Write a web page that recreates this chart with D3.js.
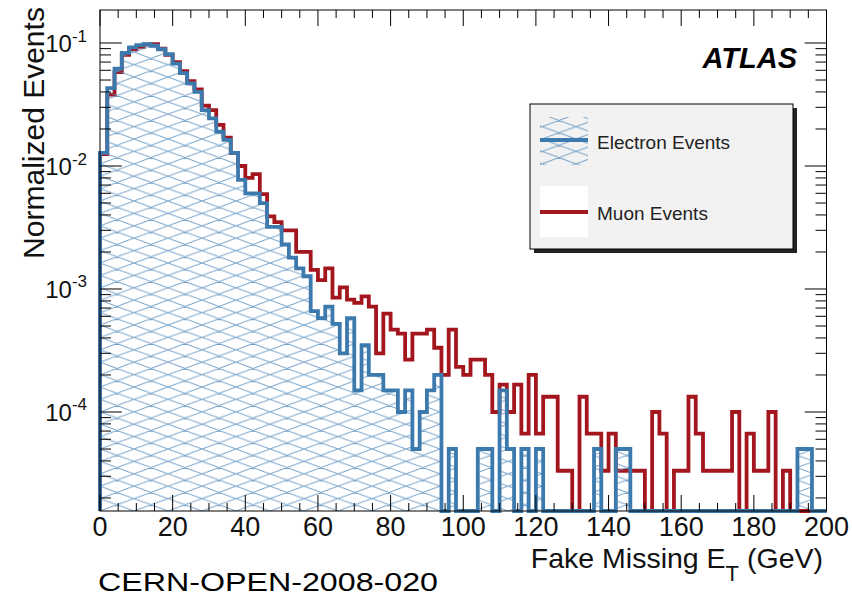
<!DOCTYPE html>
<html>
<head>
<meta charset="utf-8">
<script src="https://cdn.jsdelivr.net/npm/d3@7"></script>
<style>
  body { margin: 0; background: #fff; }
  svg { display: block; }
  text { font-family: "Liberation Sans", Arial, Helvetica, sans-serif; }
</style>
</head>
<body>
<svg id="chart" width="852" height="599"></svg>
<script>
// ---- data -------------------------------------------------------------
// Histogram binning: 100 bins of 2 GeV from 0 to 200 GeV (lower edges)
const binLowEdges = d3.range(0, 200, 2);
const binWidth = 2;

// Normalized entries per bin, electron channel
const electronEvents = [
  0.0128, 0.043, 0.062, 0.083, 0.092, 0.096, 0.098, 0.095, 0.089, 0.081,
  0.068, 0.057, 0.047, 0.040, 0.0285, 0.0244, 0.019, 0.0163, 0.0128, 0.0077,
  0.0060, 0.0060, 0.0050, 0.0032, 0.0032, 0.0023, 0.0018, 0.00147, 0.00127, 0.00066,
  0.00058, 0.00072, 0.00052, 0.00030, 0.00058, 0.00015, 0.00035, 0.00020, 0.00020, 0.00015,
  0.00015, 0.00010, 0.00015, 0.00005, 0.00010, 0.00015, 0.00020, 0, 0.00005, 0,
  0, 0, 0.00005, 0.00005, 0, 0.00015, 0.00005, 0, 0.00005, 0,
  0.00005, 0, 0, 0, 0, 0, 0, 0, 0.00005, 0,
  0, 0.00005, 0.00005, 0, 0, 0, 0, 0, 0, 0,
  0, 0, 0, 0, 0, 0, 0, 0, 0, 0,
  0, 0, 0, 0, 0, 0, 0.00005, 0.00005, 0, 0
];

// Normalized entries per bin, muon channel
const muonEvents = [
  0.0125, 0.038, 0.058, 0.080, 0.089, 0.093, 0.097, 0.098, 0.090, 0.080,
  0.070, 0.059, 0.049, 0.042, 0.031, 0.0285, 0.0216, 0.017, 0.0128, 0.0100,
  0.0080, 0.0086, 0.0059, 0.0039, 0.0035, 0.0030, 0.0030, 0.0020, 0.0020, 0.00143,
  0.00118, 0.00147, 0.00085, 0.00103, 0.00082, 0.00077, 0.00087, 0.00072, 0.00030, 0.00063,
  0.000467, 0.000433, 0.000267, 0.000433, 0.000433, 0.000467, 0.000333, 0.000200, 0.000467, 0.000233,
  0.000200, 0.000267, 0.000267, 0.000200, 0.000100, 0.000167, 0.000100, 0.000167, 0.0000667, 0.000200,
  0.0000667, 0.000133, 0.000133, 0.0000333, 0.0000333, 0, 0.000133, 0.0000667, 0.0000667, 0.0000333,
  0.0000667, 0.0000333, 0.0000333, 0.0000333, 0.0000333, 0, 0.000100, 0.0000667, 0, 0.0000333,
  0.0000333, 0.000133, 0.0000667, 0.0000333, 0.0000333, 0.0000333, 0.0000333, 0.000100, 0, 0.0000667,
  0.0000333, 0.0000333, 0.000100, 0, 0.0000333, 0, 0, 0, 0, 0
];

const seriesNames = ["Electron Events", "Muon Events"];

// Axis ticks
const xMajorTicks = d3.range(0, 201, 20);
const xMinorTicks = d3.range(0, 201, 5);
const yDecadeExponents = [-4, -3, -2, -1];
const yMinorMultipliers = [2, 3, 4, 5, 6, 7, 8, 9];
const yDomain = [1.567e-5, 0.1855];

// ---- layout -----------------------------------------------------------
const frame = { left: 100, right: 826.5, top: 10, bottom: 511 };
const colors = { electron: "#3c7aae", muon: "#a3161e", hatch: "#5289ba" };

const svg = d3.select("#chart");

const x = d3.scaleLinear().domain([0, 200]).range([frame.left, frame.right]);
const y = d3.scaleLog().domain(yDomain).range([frame.bottom, frame.top]).clamp(true);
const yv = v => (v > 0 ? y(v) : frame.bottom);

// ---- hatch pattern ----------------------------------------------------
const defs = svg.append("defs");
function addHatch(id) {
  const pw = 34, ph = 12.4;
  const p = defs.append("pattern")
    .attr("id", id)
    .attr("patternUnits", "userSpaceOnUse")
    .attr("width", pw).attr("height", ph)
    .attr("x", frame.left).attr("y", frame.bottom);
  const d = [];
  for (const n of [-1, 0, 1]) {
    d.push(`M${-pw},${-ph + n * ph}L${2 * pw},${2 * ph + n * ph}`);
    d.push(`M${-pw},${2 * ph + n * ph}L${2 * pw},${-ph + n * ph}`);
  }
  p.append("path")
    .attr("d", d.join(""))
    .attr("stroke", colors.hatch)
    .attr("stroke-width", 1)
    .attr("stroke-opacity", 0.8)
    .attr("fill", "none");
}
addHatch("hatch");

// ---- histogram step outlines -----------------------------------------
function stepPoints(values) {
  const pts = [[x(0), frame.bottom]];
  values.forEach((v, i) => {
    const lo = binLowEdges[i];
    pts.push([x(lo), yv(v)]);
    pts.push([x(lo + binWidth), yv(v)]);
  });
  pts.push([x(200), frame.bottom]);
  return pts;
}
const line = d3.line();

const muonPts = stepPoints(muonEvents);
const elecPts = stepPoints(electronEvents);

// muon: white fill with dark red outline
svg.append("path").attr("d", line(muonPts) + "Z").attr("fill", "#fff");
svg.append("path").attr("d", line(muonPts))
  .attr("fill", "none").attr("stroke", colors.muon)
  .attr("stroke-width", 3.8).attr("stroke-linejoin", "miter");

// electron: hatched fill with blue outline
svg.append("path").attr("d", line(elecPts) + "Z").attr("fill", "url(#hatch)");
svg.append("path").attr("d", line(elecPts))
  .attr("fill", "none").attr("stroke", colors.electron)
  .attr("stroke-width", 3.8).attr("stroke-linejoin", "miter");

// ---- frame and ticks --------------------------------------------------
const axes = svg.append("g").attr("stroke", "#000").attr("stroke-width", 1);
axes.append("rect")
  .attr("x", frame.left).attr("y", frame.top)
  .attr("width", frame.right - frame.left).attr("height", frame.bottom - frame.top)
  .attr("fill", "none");

const xMajorLen = 16, xMinorLen = 8, yMajorLen = 21.8, yMinorLen = 11;
xMinorTicks.forEach(t => {
  const len = xMajorTicks.includes(t) ? xMajorLen : xMinorLen;
  const px = x(t);
  axes.append("line").attr("x1", px).attr("x2", px).attr("y1", frame.bottom).attr("y2", frame.bottom - len);
  axes.append("line").attr("x1", px).attr("x2", px).attr("y1", frame.top).attr("y2", frame.top + len);
});

const yMinorValues = [];
[-5, -4, -3, -2, -1].forEach(e => yMinorMultipliers.forEach(m => {
  const v = m * Math.pow(10, e);
  if (v >= yDomain[0] && v <= yDomain[1]) yMinorValues.push(v);
}));
yMinorValues.forEach(v => {
  const py = y(v);
  axes.append("line").attr("x1", frame.left).attr("x2", frame.left + yMinorLen).attr("y1", py).attr("y2", py);
  axes.append("line").attr("x1", frame.right).attr("x2", frame.right - yMinorLen).attr("y1", py).attr("y2", py);
});
yDecadeExponents.forEach(e => {
  const py = y(Math.pow(10, e));
  axes.append("line").attr("x1", frame.left).attr("x2", frame.left + yMajorLen).attr("y1", py).attr("y2", py);
  axes.append("line").attr("x1", frame.right).attr("x2", frame.right - yMajorLen).attr("y1", py).attr("y2", py);
});

// ---- tick labels ------------------------------------------------------
svg.append("g").selectAll("text").data(xMajorTicks).join("text")
  .attr("x", d => x(d)).attr("y", 536)
  .attr("text-anchor", "middle").attr("font-size", 27).attr("fill", "#111")
  .text(d => d);

const yLabels = svg.append("g").selectAll("text").data(yDecadeExponents).join("text")
  .attr("x", 87).attr("y", d => y(Math.pow(10, d)) + 9)
  .attr("text-anchor", "end").attr("fill", "#111");
yLabels.append("tspan").attr("font-size", 24).text("10");
yLabels.append("tspan").attr("font-size", 17).attr("dy", -10.5).text(d => String(d));

// ---- axis titles ------------------------------------------------------
svg.append("text")
  .attr("transform", "translate(44,133) rotate(-90)")
  .attr("text-anchor", "middle").attr("font-size", 30).attr("fill", "#111")
  .text("Normalized Events");

const xt = svg.append("text")
  .attr("x", 823).attr("y", 567.5)
  .attr("text-anchor", "end").attr("font-size", 28.5).attr("fill", "#111");
xt.append("tspan").text("Fake Missing E");
xt.append("tspan").attr("font-size", 22).attr("dy", 13).text("T");
xt.append("tspan").attr("dy", -13).text(" (GeV)");

// ---- experiment label -------------------------------------------------
svg.append("text")
  .attr("x", 797).attr("y", 68)
  .attr("text-anchor", "end").attr("font-size", 29)
  .attr("font-weight", "bold").attr("font-style", "italic").attr("fill", "#000")
  .text("ATLAS");

// ---- legend -----------------------------------------------------------
const lg = { x: 530, y: 104, w: 263, h: 145 };
svg.append("rect").attr("x", lg.x + 4).attr("y", lg.y + 4).attr("width", lg.w).attr("height", lg.h).attr("fill", "#222");
svg.append("rect").attr("x", lg.x).attr("y", lg.y).attr("width", lg.w).attr("height", lg.h)
  .attr("fill", "#f2f2f2").attr("stroke", "#000").attr("stroke-width", 1);

const legendRows = [
  { name: seriesNames[0], fill: "url(#hatch)", stroke: colors.electron, top: 117, h: 48, lineY: 140, textY: 149 },
  { name: seriesNames[1], fill: "#fff", stroke: colors.muon, top: 186, h: 51, lineY: 212, textY: 220 }
];
legendRows.forEach(r => {
  svg.append("rect").attr("x", 540).attr("y", r.top).attr("width", 48).attr("height", r.h).attr("fill", r.fill);
  svg.append("line").attr("x1", 540).attr("x2", 588).attr("y1", r.lineY).attr("y2", r.lineY)
    .attr("stroke", r.stroke).attr("stroke-width", 4);
  svg.append("text").attr("x", 597).attr("y", r.textY).attr("font-size", 19).attr("fill", "#222").text(r.name);
});

// ---- document reference ----------------------------------------------
svg.append("text")
  .attr("x", 98).attr("y", 591)
  .attr("font-family", "'DejaVu Sans', Verdana, sans-serif")
  .attr("font-size", 25).attr("fill", "#000")
  .attr("textLength", 340).attr("lengthAdjust", "spacingAndGlyphs")
  .text("CERN-OPEN-2008-020");
</script>
</body>
</html>
